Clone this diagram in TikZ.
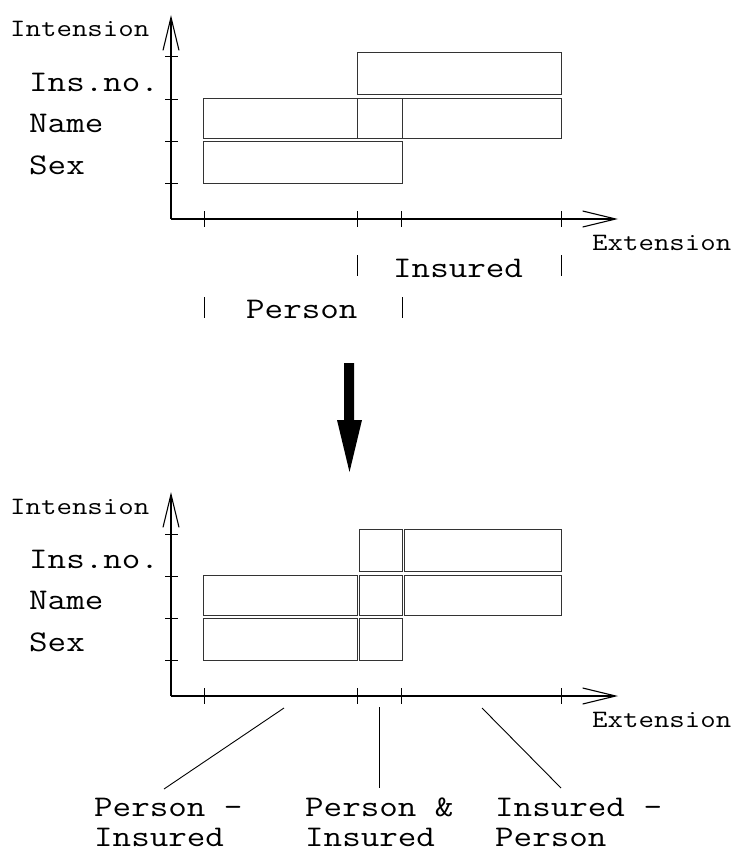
\documentclass[tikz,border=0pt]{standalone}
\usepackage{graphicx}
\usetikzlibrary{arrows.meta}
% typewriter text, widened to Courier-like proportions
\newcommand{\wtext}[1]{\scalebox{1.2}[1]{#1}}
\begin{document}
\begin{tikzpicture}[x=1pt,y=-1pt,
  big/.style={font=\ttfamily\fontsize{30}{31}\selectfont, inner sep=0pt},
  small/.style={font=\ttfamily\fontsize{25}{27}\selectfont, inner sep=0pt},
  axis/.style={line width=1.1pt, -{Straight Barb[length=33pt,width=16pt]}},
  tickmark/.style={line width=1pt},
  cell/.style={draw=black!80, line width=0.9pt},
  leader/.style={line width=0.9pt}]
\useasboundingbox (0,0) rectangle (734,851);

% the two coordinate frames (before and after the split)
\foreach \d/\dy in {top/0,bot/477}{
  \coordinate (\d-o) at (171,219+\dy);
  \coordinate (\d-ytip) at (171,15+\dy);
  \coordinate (\d-xtip) at (618,219+\dy);
  \draw[axis] (\d-o) -- (\d-ytip);
  \draw[axis] (\d-o) -- (\d-xtip);
  \foreach \ty in {57,99,141,183}
    \draw[tickmark] (165,\ty+\dy) -- (178,\ty+\dy);
  \foreach \tx in {204,357,401,561}
    \draw[tickmark] (\tx,211+\dy) -- (\tx,227+\dy);
  \node[small, anchor=base west] (\d-int) at (10,37+\dy) {\wtext{Intension}};
  \node[small, anchor=base west] (\d-ext) at (592,250+\dy) {\wtext{Extension}};
  \node[big, anchor=base west] (\d-insno) at (29,91+\dy) {\wtext{Ins.no.}};
  \node[big, anchor=base west] (\d-name) at (29,132+\dy) {\wtext{Name}};
  \node[big, anchor=base west] (\d-sex) at (29,174+\dy) {\wtext{Sex}};
}

% upper frame: overlapping classes
\draw[cell] (357,52) rectangle (561,94);   % Insured: Ins.no.
\draw[cell] (357,98) rectangle (561,138);  % Insured: Name
\draw[cell] (203,98) rectangle (402,138);  % Person: Name
\draw[cell] (203,141) rectangle (402,183); % Person: Sex

% extents of the two classes
\draw[tickmark] (357,255) -- (357,276);
\draw[tickmark] (561,255) -- (561,276);
\node[big, anchor=base west] (insured) at (393,277) {\wtext{Insured}};
\draw[tickmark] (204,297) -- (204,318);
\draw[tickmark] (402,297) -- (402,318);
\node[big, anchor=base west] (person) at (246,318) {\wtext{Person}};

% transformation arrow
\coordinate (split) at (349.5,472);
\fill (344,363) -- (354,363) -- (354,420) -- (362,420) -- (split)
      -- (337,420) -- (344,420) -- cycle;

% lower frame: disjoint partitions
\draw[cell] (359.5,529) rectangle (402,571);
\draw[cell] (404.5,529) rectangle (561,571);
\draw[cell] (203,575) rectangle (357,615);
\draw[cell] (359.5,575) rectangle (402,615);
\draw[cell] (404.5,575) rectangle (561,615);
\draw[cell] (203,618) rectangle (357,660);
\draw[cell] (359.5,618) rectangle (402,660);

% partition labels (two lines each) and leaders
\node[big, anchor=base west] (pmi) at (94,816) {\wtext{Person –}};
\node[big, anchor=base west] (pmi2) at (94,846) {\wtext{Insured}};
\node[big, anchor=base west] (pai) at (305,816) {\wtext{Person \&}};
\node[big, anchor=base west] (pai2) at (305,846) {\wtext{Insured}};
\node[big, anchor=base west] (imp) at (495,816) {\wtext{Insured –}};
\node[big, anchor=base west] (imp2) at (495,846) {\wtext{Person}};
\coordinate (pmi-a) at (284,708);
\coordinate (pmi-b) at (164,789);
\coordinate (pai-a) at (379,707);
\coordinate (pai-b) at (379,788);
\coordinate (imp-a) at (482,708);
\coordinate (imp-b) at (561,788);
\draw[leader] (pmi-a) -- (pmi-b);
\draw[leader] (pai-a) -- (pai-b);
\draw[leader] (imp-a) -- (imp-b);
\end{tikzpicture}
\end{document}
